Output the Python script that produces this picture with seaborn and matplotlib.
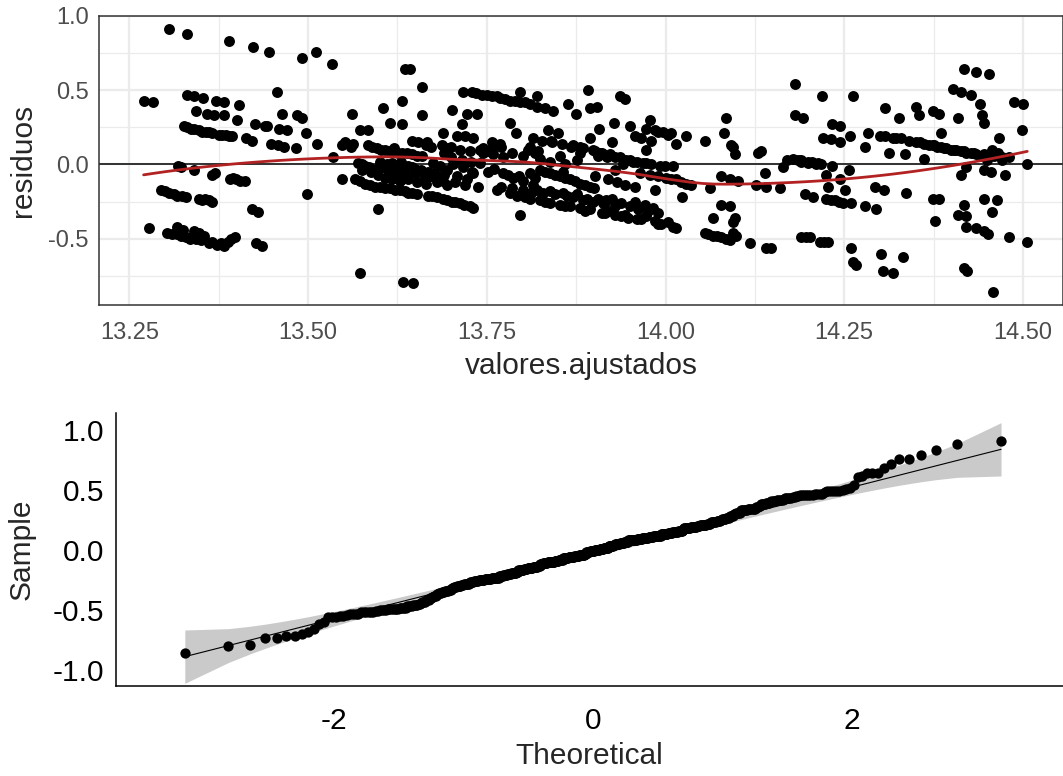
import numpy as np
import pandas as pd
import matplotlib.pyplot as plt
import seaborn as sns
from statistics import NormalDist

valores_ajustados = [
    # 13.25 - 13.45
    13.305, 13.331, 13.390, 13.423, 13.270, 13.283,
    13.331, 13.340, 13.353, 13.371, 13.382, 13.403,
    13.343, 13.359, 13.368, 13.382, 13.401, 13.426, 13.440,
    13.326, 13.336, 13.347, 13.357, 13.366, 13.375, 13.385, 13.393,
    13.413, 13.421,
    13.318, 13.340, 13.366, 13.391, 13.399, 13.412,
    13.295, 13.306, 13.317, 13.329, 13.347, 13.361,
    13.421, 13.430, 13.277,
    13.303, 13.317, 13.317, 13.329, 13.340, 13.343, 13.361, 13.373, 13.382, 13.392,
    13.427, 13.436,
    # zona izquierda, puntos solapados
    13.310, 13.322, 13.335, 13.350, 13.355, 13.366, 13.378, 13.388, 13.398, 13.325, 13.348,
    13.300, 13.312, 13.323, 13.352, 13.366, 13.356,
    13.395, 13.405, 13.370, 13.322,
    13.331, 13.341, 13.352, 13.362, 13.380, 13.390,
    # 13.45 - 13.67
    13.445, 13.491, 13.511, 13.533, 13.457, 13.463, 13.485, 13.492,
    13.443, 13.459, 13.471, 13.497,
    13.448, 13.458, 13.467, 13.483, 13.513, 13.535, 13.499, 13.547,
    13.561, 13.552, 13.563, 13.573, 13.584,
    13.605, 13.614, 13.631, 13.631, 13.636, 13.643,
    13.659, 13.659, 13.645, 13.654, 13.666,
    13.584, 13.596, 13.608, 13.619, 13.631, 13.645, 13.659,
    13.570, 13.580, 13.605, 13.617, 13.626, 13.636, 13.645, 13.654, 13.663, 13.672,
    13.621, 13.636, 13.649, 13.663,
    13.566, 13.580, 13.594, 13.608, 13.622, 13.636, 13.645,
    13.668, 13.598, 13.573, 13.633, 13.647,
    # bloque denso 13.55 - 13.73
    13.575, 13.585, 13.595, 13.600, 13.610, 13.612, 13.625, 13.630, 13.640, 13.650,
    13.658, 13.668, 13.676, 13.690, 13.598, 13.608, 13.618, 13.628, 13.640, 13.652,
    13.665, 13.680, 13.695, 13.705, 13.588, 13.575,
    13.573, 13.587, 13.601, 13.615, 13.629, 13.640, 13.652,
    13.680, 13.695, 13.706, 13.718, 13.731,
    13.590, 13.602, 13.614, 13.626, 13.638, 13.652,
    13.548, 13.560, 13.620, 13.665, 13.672, 13.690,
    # 13.67 - 13.90
    13.717, 13.729, 13.743, 13.757, 13.768, 13.782, 13.796, 13.796, 13.810, 13.820,
    13.820, 13.831, 13.843, 13.864, 13.875, 13.892, 13.894,
    13.701, 13.722, 13.736, 13.715, 13.689,
    13.708, 13.719, 13.731, 13.782, 13.791,
    13.687, 13.696, 13.726, 13.757, 13.768,
    13.745, 13.759, 13.773, 13.808, 13.817,
    13.815, 13.827, 13.841, 13.836, 13.850, 13.852,
    13.871, 13.885, 13.899, 13.876, 13.894,
    13.675, 13.684, 13.694, 13.680, 13.689, 13.703, 13.717, 13.729, 13.708, 13.722, 13.731,
    13.673, 13.689, 13.701, 13.712, 13.726,
    13.719, 13.738, 13.752, 13.764,
    13.773, 13.787, 13.801, 13.815, 13.782, 13.792, 13.796,
    13.810, 13.824, 13.838, 13.852, 13.866, 13.880, 13.894,
    13.810, 13.824, 13.838, 13.852, 13.866, 13.880, 13.894,
    13.820, 13.838, 13.857, 13.876, 13.890, 13.857,
    # bandas densas 13.70 - 14.04
    13.760, 13.780, 13.795, 13.817, 13.831, 13.845, 13.859, 13.873, 13.887, 13.900,
    13.770, 13.785, 13.800, 13.812, 13.828, 13.845, 13.862, 13.870, 13.884, 13.898, 13.912,
    13.803, 13.831, 13.859, 13.887, 13.915, 13.929,
    13.920, 13.944, 13.966, 13.990, 14.010,
    13.917, 13.938, 13.950, 13.962, 13.975, 13.990,
    13.965, 13.990, 14.008, 14.022, 14.035,
    13.700, 13.712, 13.740, 13.752, 13.785, 13.800, 13.825, 13.838, 13.860, 13.880,
    13.905, 13.918, 13.950, 13.940,
    13.735, 13.750, 13.765, 13.775, 13.790, 13.803,
    13.700, 13.715, 13.728, 13.740, 13.745, 13.760, 13.770, 13.810, 13.822,
    13.840, 13.855, 13.868, 13.880, 13.908, 13.918, 13.930, 13.945, 13.955,
    13.968, 13.980, 13.992, 13.958, 13.990, 14.003,
    # 13.90 - 14.13
    13.936, 13.943, 13.904, 13.928, 13.950, 13.907,
    13.978, 13.973, 13.985, 13.997, 14.007, 13.966, 13.980,
    14.015, 14.029, 13.925, 13.901, 13.911, 13.922, 13.936,
    13.973, 13.960, 13.973, 13.999, 14.011,
    14.055, 14.085, 14.082, 14.092, 14.097, 14.129, 14.095,
    13.901, 13.929, 13.920, 13.932, 13.943, 13.957,
    13.978, 14.001, 14.015, 14.029, 13.985, 14.023,
    14.062, 14.077, 14.090, 14.101, 14.127,
    13.906, 13.915, 13.925, 13.911, 13.929, 13.938, 13.948, 13.960,
    13.957, 13.971, 13.983, 13.973, 13.985, 13.994, 14.004, 14.015,
    14.078, 14.090, 14.067, 14.097, 14.095,
    14.055, 14.067, 14.078, 14.090, 14.099, 14.118,
    14.060, 14.072, 14.085, 14.095,
    # 14.13 - 14.36
    14.181, 14.219, 14.262, 14.181, 14.192, 14.233, 14.244,
    14.220, 14.232, 14.244, 14.258, 14.283, 14.279,
    14.307, 14.327, 14.307, 14.318, 14.330, 14.313, 14.335,
    14.351, 14.355, 14.356, 14.134,
    14.178, 14.190, 14.199, 14.213, 14.218,
    14.164, 14.139, 14.141, 14.160,
    14.233, 14.225, 14.244, 14.257, 14.227, 14.251,
    14.195, 14.206, 14.225, 14.237, 14.248, 14.260,
    14.279, 14.295, 14.293, 14.305, 14.337,
    14.141, 14.148, 14.190, 14.202, 14.216, 14.227, 14.259, 14.262, 14.266,
    14.302, 14.332, 14.304, 14.318,
    14.196, 14.222, 14.231, 14.242, 14.185, 14.205,
    14.170, 14.190, 14.200, 14.210, 14.300, 14.322, 14.340, 14.350,
    # 14.36 - 14.51
    14.418, 14.434, 14.453,
    14.402, 14.414, 14.428, 14.440, 14.488, 14.500,
    14.374, 14.383, 14.409, 14.443, 14.446, 14.385, 14.498, 14.467,
    14.362, 14.374, 14.386, 14.400, 14.414, 14.428, 14.442, 14.456, 14.465,
    14.368, 14.380, 14.393, 14.407, 14.421, 14.435, 14.449,
    14.375, 14.390, 14.404, 14.418, 14.432, 14.446, 14.460, 14.470, 14.480,
    14.362, 14.449, 14.470, 14.505,
    14.414, 14.421, 14.445, 14.455, 14.475,
    14.374, 14.383, 14.418, 14.446, 14.463, 14.456,
    14.377, 14.409, 14.421,
    14.421, 14.435, 14.446, 14.451, 14.481, 14.506,
    14.418, 14.422, 14.458,
]

residuos = [
    # 13.25 - 13.45
    0.91, 0.88, 0.83, 0.79, 0.43, 0.42,
    0.47, 0.46, 0.45, 0.43, 0.42, 0.40,
    0.36, 0.34, 0.33, 0.33, 0.30, 0.27, 0.26,
    0.26, 0.24, 0.23, 0.22, 0.21, 0.20, 0.20, 0.19,
    0.18, 0.16,
    -0.01, -0.04, -0.07, -0.10, -0.10, -0.11,
    -0.17, -0.19, -0.21, -0.22, -0.23, -0.24,
    -0.30, -0.32, -0.43,
    -0.46, -0.42, -0.47, -0.49, -0.45, -0.50, -0.53, -0.54, -0.55, -0.50,
    -0.53, -0.55,
    # zona izquierda, puntos solapados
    -0.47, -0.48, -0.50, -0.51, -0.48, -0.52, -0.53, -0.52, -0.49, -0.44, -0.46,
    -0.18, -0.20, -0.21, -0.24, -0.25, -0.23,
    -0.09, -0.11, -0.06, -0.02,
    0.25, 0.24, 0.22, 0.22, 0.20, 0.19,
    # 13.45 - 13.67
    0.76, 0.72, 0.76, 0.68, 0.49, 0.34, 0.33, 0.31,
    0.26, 0.24, 0.23, 0.21,
    0.14, 0.13, 0.12, 0.11, 0.14, 0.05, -0.20, -0.10,
    0.34, 0.15, 0.14, 0.23, 0.23,
    0.38, 0.28, 0.43, 0.27, 0.64, 0.64,
    0.52, 0.33, 0.16, 0.15, 0.15,
    0.13, 0.11, 0.10, 0.09, 0.08, 0.07, 0.06,
    0.01, -0.01, -0.02, 0.01, -0.01, -0.04, -0.02, -0.05, -0.06, -0.08,
    -0.06, -0.07, -0.06, -0.09,
    -0.10, -0.13, -0.15, -0.16, -0.17, -0.18, -0.19,
    -0.21, -0.30, -0.73, -0.79, -0.80,
    # bloque denso 13.55 - 13.73
    0.00, -0.02, -0.03, 0.02, 0.00, -0.04, -0.05, 0.02, -0.01, -0.03,
    -0.04, -0.05, -0.06, -0.07, -0.07, -0.09, -0.10, -0.11, -0.10, -0.12,
    -0.13, -0.12, -0.14, -0.12, -0.05, -0.04,
    -0.11, -0.14, -0.15, -0.16, -0.17, -0.19, -0.20,
    -0.22, -0.24, -0.25, -0.27, -0.29,
    0.12, 0.10, 0.09, 0.08, 0.08, 0.06,
    0.13, 0.12, 0.11, 0.13, 0.12, 0.08,
    # 13.67 - 13.90
    0.49, 0.49, 0.47, 0.46, 0.45, 0.43, 0.49, 0.42, 0.41, 0.46,
    0.39, 0.38, 0.36, 0.41, 0.34, 0.50, 0.38,
    0.37, 0.34, 0.34, 0.27, 0.21,
    0.19, 0.19, 0.18, 0.28, 0.21,
    0.13, 0.11, 0.09, 0.15, 0.14,
    0.08, 0.07, 0.05, 0.10, 0.08,
    0.18, 0.16, 0.15, 0.23, 0.21, 0.06,
    0.13, 0.11, 0.10, 0.03, 0.18,
    0.01, -0.01, -0.04, -0.08, -0.11, 0.00, -0.02, -0.05, -0.08, -0.10, -0.06,
    -0.21, -0.23, -0.25, -0.26, -0.28,
    -0.14, -0.15, -0.05, -0.17,
    -0.06, -0.09, -0.11, -0.14, -0.19, -0.21, -0.34,
    -0.06, -0.04, -0.06, -0.08, -0.10, -0.13, -0.15,
    -0.23, -0.24, -0.26, -0.27, -0.28, -0.29, -0.30,
    -0.17, -0.18, -0.19, -0.20, -0.23, -0.05,
    # bandas densas 13.70 - 14.04
    -0.03, -0.07, -0.08, -0.09, -0.05, -0.07, -0.09, -0.11, -0.14, -0.16,
    -0.15, -0.16, -0.17, -0.19, -0.19, -0.20, -0.21, -0.22, -0.24, -0.25, -0.26,
    -0.22, -0.25, -0.28, -0.31, -0.33, -0.34,
    -0.31, -0.34, -0.37, -0.40, -0.42,
    -0.24, -0.26, -0.28, -0.30, -0.31, -0.33,
    -0.06, -0.08, -0.10, -0.12, -0.14,
    0.12, 0.10, 0.10, 0.09, 0.08, 0.06, 0.04, 0.02, 0.00, 0.08,
    0.06, 0.05, 0.03, 0.00,
    0.48, 0.47, 0.46, 0.44, 0.43, 0.42,
    0.05, 0.03, 0.02, 0.01, 0.11, 0.13, 0.12, 0.12, 0.09,
    0.16, 0.14, 0.12, 0.12, 0.08, 0.06, 0.05, 0.03, 0.02,
    0.01, 0.00, -0.01, 0.19, 0.22, 0.20,
    # 13.90 - 14.13
    0.46, 0.44, 0.39, 0.28, 0.26, 0.24,
    0.30, 0.24, 0.23, 0.22, 0.21, 0.18, 0.16,
    0.14, 0.19, 0.15, 0.09, 0.08, 0.07, 0.05,
    0.10, 0.02, 0.01, -0.01, -0.01,
    0.16, 0.31, 0.21, 0.13, 0.07, 0.08, 0.12,
    -0.08, -0.04, -0.10, -0.12, -0.14, -0.15,
    -0.07, -0.09, -0.10, -0.13, -0.17, -0.22,
    -0.16, -0.08, -0.10, -0.11, -0.14,
    -0.23, -0.25, -0.23, -0.33, -0.28, -0.35, -0.36, -0.37,
    -0.25, -0.27, -0.29, -0.35, -0.38, -0.40, -0.39, -0.43,
    -0.27, -0.28, -0.36, -0.36, -0.39,
    -0.46, -0.48, -0.49, -0.51, -0.48, -0.53,
    -0.47, -0.48, -0.50, -0.46,
    # 14.13 - 14.36
    0.54, 0.46, 0.46, 0.33, 0.31, 0.27, 0.26,
    0.18, 0.17, 0.15, 0.19, 0.21, 0.12,
    0.38, 0.31, 0.19, 0.18, 0.18, 0.08, 0.07,
    0.39, 0.33, 0.15, 0.09,
    0.04, 0.03, 0.02, 0.01, 0.00,
    -0.02, -0.06, -0.15, -0.16,
    -0.01, -0.07, -0.10, -0.04, -0.15, -0.17,
    -0.20, -0.22, -0.23, -0.24, -0.26, -0.26,
    -0.28, -0.30, -0.15, -0.17, -0.19,
    -0.56, -0.56, -0.49, -0.49, -0.52, -0.52, -0.56, -0.66, -0.68,
    -0.60, -0.62, -0.72, -0.73,
    -0.49, -0.52, -0.24, -0.25, 0.03, 0.02,
    0.03, 0.02, 0.01, 0.00, 0.19, 0.18, 0.16, 0.15,
    # 14.36 - 14.51
    0.64, 0.62, 0.61,
    0.51, 0.49, 0.47, 0.41, 0.42, 0.41,
    0.36, 0.34, 0.31, 0.33, 0.28, 0.21, 0.23, 0.18,
    0.14, 0.13, 0.12, 0.10, 0.09, 0.08, 0.06, 0.10, 0.08,
    0.13, 0.12, 0.11, 0.10, 0.08, 0.07, 0.05,
    0.13, 0.11, 0.10, 0.09, 0.08, 0.07, 0.06, 0.05, 0.05,
    0.04, 0.03, 0.03, 0.00,
    -0.07, -0.02, -0.04, -0.05, -0.07,
    -0.23, -0.23, -0.27, -0.23, -0.24, -0.32,
    -0.38, -0.34, -0.35,
    -0.42, -0.43, -0.45, -0.47, -0.49, -0.52,
    -0.70, -0.72, -0.86,
]

x_ticks_top = [13.25, 13.50, 13.75, 14.00, 14.25, 14.50]
y_ticks_top = [-0.5, 0.0, 0.5, 1.0]
x_ticks_qq = [-2, 0, 2]
y_ticks_qq = [-1.0, -0.5, 0.0, 0.5, 1.0]

sns.set_style("white")
plt.rcParams["font.family"] = ["Liberation Sans", "DejaVu Sans"]
plt.rcParams["axes.unicode_minus"] = False

df = pd.DataFrame({"valores.ajustados": valores_ajustados, "residuos": residuos})


def loess(x, y, grid, span=0.75):
    # suavizado local cuadratico con pesos tricubicos (como loess de R)
    q = int(np.floor(span * len(x)))
    fit = []
    for x0 in grid:
        d = np.abs(x - x0)
        h = np.sort(d)[q - 1]
        w = np.clip(1 - (d / h) ** 3, 0, None) ** 3
        coef = np.polyfit(x - x0, y, 2, w=np.sqrt(w))
        fit.append(coef[-1])
    return np.array(fit)


x = df["valores.ajustados"].to_numpy()
y = df["residuos"].to_numpy()
grid = np.linspace(x.min(), x.max(), 80)
smooth = loess(x, y, grid)

# qq: cuantiles teoricos, linea por cuartiles y banda puntual al 95%
nd = NormalDist()
n = len(y)
sample = np.sort(y)
probs = (np.arange(1, n + 1) - 0.5) / n
theo = np.array([nd.inv_cdf(p) for p in probs])
q25, q75 = np.quantile(sample, [0.25, 0.75])
z25, z75 = nd.inv_cdf(0.25), nd.inv_cdf(0.75)
slope = (q75 - q25) / (z75 - z25)
inter = q25 - slope * z25
fitted = inter + slope * theo
se = slope / np.array([nd.pdf(z) for z in theo]) * np.sqrt(probs * (1 - probs) / n)
zc = nd.inv_cdf(0.975)
qq = pd.DataFrame({"Theoretical": theo, "Sample": sample})

fig = plt.figure(figsize=(10.63, 7.76), dpi=100)
ax1 = fig.add_axes([0.0934, 0.607, 0.9066, 0.3724])
ax2 = fig.add_axes([0.1091, 0.116, 0.8909, 0.3522])

# --- residuos vs ajustados ---
ax1.set_xlim(13.208, 14.556)
ax1.set_ylim(-0.946, 0.993)
ax1.set_xticks(x_ticks_top)
ax1.set_xticklabels([f"{v:.2f}" for v in x_ticks_top])
ax1.set_yticks(y_ticks_top)
ax1.set_yticklabels([f"{v:.1f}" for v in y_ticks_top])
ax1.set_xticks([13.375, 13.625, 13.875, 14.125, 14.375], minor=True)
ax1.set_yticks([-0.75, -0.25, 0.25, 0.75], minor=True)
ax1.grid(which="major", color="#EBEBEB", linewidth=1.6, zorder=0)
ax1.grid(which="minor", color="#EBEBEB", linewidth=0.9, zorder=0)
ax1.set_axisbelow(True)
ax1.axhline(0, color="black", linewidth=1.1, zorder=2)
sns.scatterplot(data=df, x="valores.ajustados", y="residuos", color="black",
                s=62, linewidth=0, ax=ax1, zorder=3)
sns.lineplot(x=grid, y=smooth, color="#B22222", linewidth=2.0, ax=ax1, zorder=4)
for sp in ax1.spines.values():
    sp.set_color("#333333")
    sp.set_linewidth(1.1)
ax1.tick_params(which="major", length=4, width=1.0, color="#333333",
                labelcolor="#4D4D4D", labelsize=17)
ax1.tick_params(which="minor", length=0)
ax1.tick_params(axis="x", pad=8)
ax1.set_xlabel("valores.ajustados", fontsize=21.5, labelpad=6)
ax1.set_ylabel("residuos", fontsize=21.5, labelpad=8)

# --- qq plot ---
ax2.fill_between(theo, fitted - zc * se, fitted + zc * se, color="#CACACA",
                 linewidth=0, zorder=1)
ax2.plot(theo, fitted, color="black", linewidth=0.8, zorder=2)
sns.scatterplot(data=qq, x="Theoretical", y="Sample", color="black", s=55,
                linewidth=0, ax=ax2, zorder=3)
ax2.set_xlim(-3.68, 3.627)
ax2.set_ylim(-1.133, 1.144)
ax2.set_xticks(x_ticks_qq)
ax2.set_xticklabels([str(v) for v in x_ticks_qq])
ax2.set_yticks(y_ticks_qq)
ax2.set_yticklabels([f"{v:.1f}" for v in y_ticks_qq])
ax2.spines["top"].set_visible(False)
ax2.spines["right"].set_visible(False)
for s in ["left", "bottom"]:
    ax2.spines[s].set_color("black")
    ax2.spines[s].set_linewidth(1.1)
ax2.tick_params(length=5, width=1.0, color="black", labelcolor="black",
                labelsize=21.5)
ax2.tick_params(axis="x", pad=10)
ax2.set_xlabel("Theoretical", fontsize=21.5, labelpad=5)
ax2.set_ylabel("Sample", fontsize=21.5, labelpad=12)

fig.savefig("out.png", dpi=100)
